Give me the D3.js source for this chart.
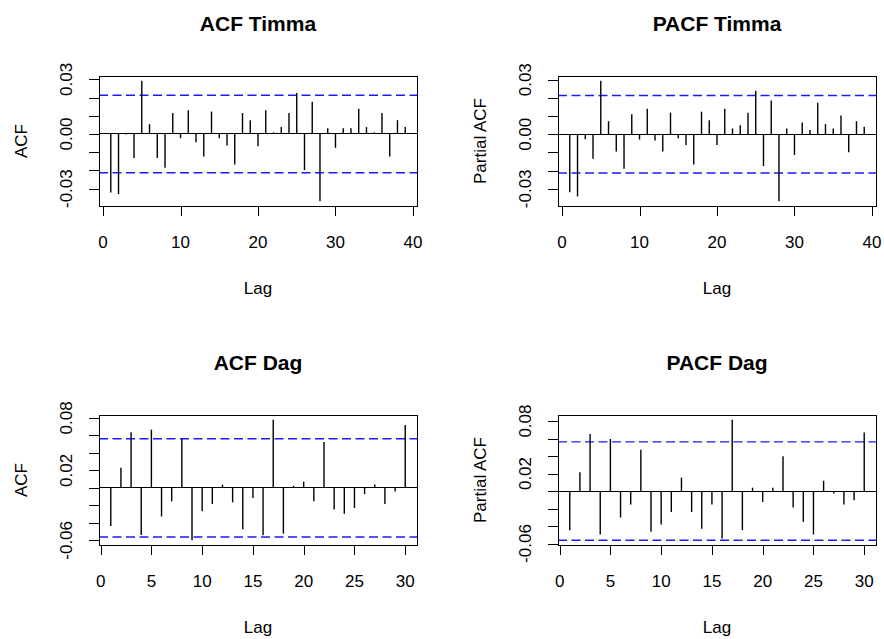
<!DOCTYPE html>
<html>
<head>
<meta charset="utf-8">
<script src="https://cdn.jsdelivr.net/npm/d3@7"></script>
<style>
  body { margin: 0; background: #fff; }
  text { font-family: 'Liberation Sans', Arial, sans-serif; }
</style>
</head>
<body>
<div id="chart"></div>
<script>
// values, lag 1 onward
const acfTimma = [
  -0.0321, -0.0330, -0.0003, -0.0132, 0.0292, 0.0054, -0.0132, -0.0186, 0.0115, -0.0023,
  0.0130, -0.0045, -0.0123, 0.0123, -0.0023, -0.0063, -0.0168, 0.0115, 0.0076, -0.0068,
  0.0130, 0.0009, 0.0038, 0.0115, 0.0225, -0.0198, 0.0177, -0.0369, 0.0031, -0.0076,
  0.0031, 0.0031, 0.0139, 0.0038, 0.0009, 0.0115, -0.0123, 0.0076, 0.0038
];
const pacfTimma = [
  -0.0319, -0.0342, -0.0027, -0.0135, 0.0294, 0.0072, -0.0095, -0.0189, 0.0110, -0.0029,
  0.0141, -0.0034, -0.0095, 0.0119, -0.0022, -0.0059, -0.0166, 0.0124, 0.0077, -0.0059,
  0.0141, 0.0032, 0.0049, 0.0119, 0.0240, -0.0175, 0.0186, -0.0368, 0.0032, -0.0114,
  0.0065, 0.0023, 0.0173, 0.0056, 0.0032, 0.0103, -0.0099, 0.0072, 0.0041
];
const acfDag = [
  -0.0436, 0.0229, 0.0635, -0.0538, 0.0665, -0.0327, -0.0154, 0.0560, -0.0598, -0.0267,
  -0.0184, 0.0038, -0.0165, -0.0474, -0.0117, -0.0541, 0.0778, -0.0523, 0.0023, 0.0071,
  -0.0154, 0.0523, -0.0248, -0.0297, -0.0229, -0.0071, 0.0038, -0.0184, -0.0041, 0.0718
];
const pacfDag = [
  -0.0447, 0.0216, 0.0652, -0.0496, 0.0595, -0.0303, -0.0155, 0.0473, -0.0466, -0.0383,
  -0.0239, 0.0152, -0.0239, -0.0432, -0.0155, -0.0542, 0.0814, -0.0447, 0.0038, -0.0125,
  0.0038, 0.0398, -0.0189, -0.0352, -0.0496, 0.0117, -0.0027, -0.0155, -0.0106, 0.0670
];
const ciTimma = 0.0213;
const ciDag = 0.0562;

const xTicksTimma = [0, 10, 20, 30, 40];
const xTicksDag = [0, 5, 10, 15, 20, 25, 30];
const yTicksTimma = [-0.03, -0.02, -0.01, 0, 0.01, 0.02, 0.03];
const yLabelsTimma = [-0.03, 0, 0.03];
const yTicksDag = [-0.06, -0.04, -0.02, 0, 0.02, 0.04, 0.06, 0.08];
const yLabelsDag = [-0.06, 0.02, 0.08];

const w = 884;
const h = 639;

const svg = d3.select('#chart')
  .append('svg')
  .attr('width', w)
  .attr('height', h);

svg.append('rect')
  .attr('width', w)
  .attr('height', h)
  .attr('fill', '#fff');

function drawPanel(p) {
  const n = p.values.length;
  const xPad = 0.04 * (n - 1);
  const xScale = d3.scaleLinear()
    .domain([1 - xPad, n + xPad])
    .range([p.left, p.right]);

  // R style ylim: data plus the confidence band, 4% padding
  const lo = Math.min(d3.min(p.values), -p.ci);
  const hi = Math.max(d3.max(p.values), p.ci);
  const yPad = 0.04 * (hi - lo);
  const yScale = d3.scaleLinear()
    .domain([lo - yPad, hi + yPad])
    .range([p.bottom, p.top]);

  const g = svg.append('g');

  // axes, ticks only
  g.append('g')
    .attr('transform', 'translate(0,' + p.bottom + ')')
    .call(d3.axisBottom(xScale).tickValues(p.xTicks).tickSize(10).tickSizeOuter(0).tickFormat(''))
    .call(function(a) { a.select('.domain').remove(); });

  g.append('g')
    .attr('transform', 'translate(' + p.left + ',0)')
    .call(d3.axisLeft(yScale).tickValues(p.yTicks).tickSize(10).tickSizeOuter(0).tickFormat(''))
    .call(function(a) { a.select('.domain').remove(); });

  g.selectAll('.tick line')
    .attr('stroke', '#000')
    .attr('shape-rendering', 'crispEdges');

  g.selectAll('text.xlab')
    .data(p.xTicks)
    .enter()
    .append('text')
    .attr('class', 'xlab')
    .attr('x', function(d) { return xScale(d); })
    .attr('y', p.bottom + 42)
    .attr('text-anchor', 'middle')
    .attr('font-size', '17px')
    .attr('fill', '#000')
    .text(function(d) { return d; });

  g.selectAll('text.ylab')
    .data(p.yLabels)
    .enter()
    .append('text')
    .attr('class', 'ylab')
    .attr('transform', function(d) {
      return 'translate(' + (p.left - 27) + ',' + yScale(d) + ') rotate(-90)';
    })
    .attr('text-anchor', 'middle')
    .attr('font-size', '17px')
    .attr('fill', '#000')
    .text(function(d) { return d.toFixed(2); });

  // zero line
  g.append('line')
    .attr('x1', p.left)
    .attr('x2', p.right)
    .attr('y1', yScale(0))
    .attr('y2', yScale(0))
    .attr('stroke', '#000')
    .attr('shape-rendering', 'crispEdges');

  // confidence band
  g.selectAll('line.ci')
    .data([p.ci, -p.ci])
    .enter()
    .append('line')
    .attr('class', 'ci')
    .attr('x1', p.left)
    .attr('x2', p.right)
    .attr('y1', function(d) { return yScale(d); })
    .attr('y2', function(d) { return yScale(d); })
    .attr('stroke', '#1a1aff')
    .attr('stroke-width', 1.4)
    .attr('stroke-dasharray', '9,4.5');

  // spikes
  g.selectAll('line.spike')
    .data(p.values)
    .enter()
    .append('line')
    .attr('class', 'spike')
    .attr('x1', function(d, i) { return xScale(i + 1); })
    .attr('x2', function(d, i) { return xScale(i + 1); })
    .attr('y1', yScale(0))
    .attr('y2', function(d) { return yScale(d); })
    .attr('stroke', '#000')
    .attr('stroke-width', 1.4);

  g.append('rect')
    .attr('x', p.left)
    .attr('y', p.top)
    .attr('width', p.right - p.left)
    .attr('height', p.bottom - p.top)
    .attr('fill', 'none')
    .attr('stroke', '#000')
    .attr('shape-rendering', 'crispEdges');

  g.append('text')
    .attr('x', (p.left + p.right) / 2)
    .attr('y', p.top - 45)
    .attr('text-anchor', 'middle')
    .attr('font-size', '21px')
    .attr('font-weight', 'bold')
    .attr('fill', '#000')
    .text(p.title);

  g.append('text')
    .attr('x', (p.left + p.right) / 2)
    .attr('y', p.bottom + 88)
    .attr('text-anchor', 'middle')
    .attr('font-size', '17px')
    .attr('fill', '#000')
    .text('Lag');

  g.append('text')
    .attr('transform', 'translate(' + (p.left - 72) + ',' + ((p.top + p.bottom) / 2) + ') rotate(-90)')
    .attr('text-anchor', 'middle')
    .attr('font-size', '17px')
    .attr('fill', '#000')
    .text(p.ylabel);
}

drawPanel({ title: 'ACF Timma', ylabel: 'ACF', values: acfTimma, ci: ciTimma,
  xTicks: xTicksTimma, yTicks: yTicksTimma, yLabels: yLabelsTimma,
  left: 99, right: 417, top: 76, bottom: 206 });
drawPanel({ title: 'PACF Timma', ylabel: 'Partial ACF', values: pacfTimma, ci: ciTimma,
  xTicks: xTicksTimma, yTicks: yTicksTimma, yLabels: yLabelsTimma,
  left: 558, right: 876, top: 76, bottom: 206 });
drawPanel({ title: 'ACF Dag', ylabel: 'ACF', values: acfDag, ci: ciDag,
  xTicks: xTicksDag, yTicks: yTicksDag, yLabels: yLabelsDag,
  left: 99, right: 417, top: 415, bottom: 545 });
drawPanel({ title: 'PACF Dag', ylabel: 'Partial ACF', values: pacfDag, ci: ciDag,
  xTicks: xTicksDag, yTicks: yTicksDag, yLabels: yLabelsDag,
  left: 558, right: 876, top: 415, bottom: 545 });
</script>
</body>
</html>
